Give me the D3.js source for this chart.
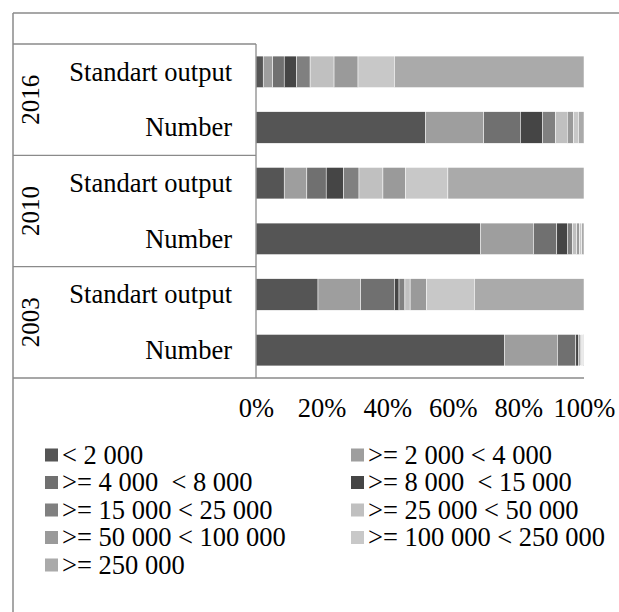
<!DOCTYPE html>
<html>
<head>
<meta charset="utf-8">
<script src="https://cdn.jsdelivr.net/npm/d3@7"></script>
<style>
  body { margin: 0; background: #fff; }
</style>
</head>
<body>
<script>
// size classes (legend order)
var sizeClasses = ["< 2 000", ">= 2 000 < 4 000", ">= 4 000  < 8 000", ">= 8 000  < 15 000",
  ">= 15 000 < 25 000", ">= 25 000 < 50 000", ">= 50 000 < 100 000", ">= 100 000 < 250 000", ">= 250 000"];
var classColors = ["#555555", "#9e9e9e", "#707070", "#454545", "#808080", "#c0c0c0", "#9a9a9a", "#c8c8c8", "#aaaaaa"];
var years = ["2016", "2010", "2003"];
var measures = ["Standart output", "Number"];
var tickValues = [0, 20, 40, 60, 80, 100];

// shares in % for each size class
var output2016 = [2.2, 2.9, 3.5, 3.8, 4.1, 7.3, 7.3, 11.1, 57.8];
var number2016 = [51.7, 17.7, 11.2, 6.7, 4.0, 3.6, 1.9, 1.5, 1.7];
var output2010 = [8.6, 6.9, 5.9, 5.3, 4.7, 7.3, 6.9, 12.9, 41.5];
var number2010 = [68.4, 16.2, 7.1, 3.2, 1.6, 1.3, 0.8, 0.7, 0.7];
var output2003 = [18.9, 13.0, 10.3, 1.4, 1.8, 1.6, 5.0, 14.6, 33.4];
var number2003 = [75.7, 16.2, 5.6, 0.8, 0.5, 0.5, 0.3, 0.2, 0.2];

var seriesByRow = {
  "2016|Standart output": output2016, "2016|Number": number2016,
  "2010|Standart output": output2010, "2010|Number": number2010,
  "2003|Standart output": output2003, "2003|Number": number2003
};

var width = 619, height = 612;
var plotLeft = 256, plotRight = 584, plotTop = 44, plotBottom = 378;
var frameX = 13, frameY = 13;
var serif = "Liberation Serif, Times New Roman, serif";
var fs = 26.5;

var svg = d3.select("body").append("svg").attr("width", width).attr("height", height)
  .attr("font-family", serif);

// rows for the stack
var rows = [];
years.forEach(function (y) {
  measures.forEach(function (m) {
    var r = { year: y, measure: m };
    seriesByRow[y + "|" + m].forEach(function (v, i) { r[sizeClasses[i]] = v; });
    rows.push(r);
  });
});
var stacked = d3.stack().keys(sizeClasses)(rows);

var x = d3.scaleLinear().domain([0, 100]).range([plotLeft, plotRight]);
var yGroup = d3.scaleBand().domain(years).range([plotTop, plotBottom]);
var ySub = d3.scaleBand().domain(measures).range([0, yGroup.bandwidth()])
  .paddingInner(0.434).paddingOuter(0.217);
var color = d3.scaleOrdinal().domain(sizeClasses).range(classColors);

var lineColor = "#8a8a8a";

// outer chart frame
svg.append("line").attr("x1", frameX).attr("y1", frameY).attr("x2", width + 5).attr("y2", frameY)
  .attr("stroke", lineColor).attr("stroke-width", 1.5);
svg.append("line").attr("x1", frameX).attr("y1", frameY).attr("x2", frameX).attr("y2", height + 5)
  .attr("stroke", lineColor).attr("stroke-width", 1.5);

// bars
var layers = svg.append("g").selectAll("g").data(stacked).enter().append("g")
  .attr("fill", function (d) { return color(d.key); });
layers.selectAll("rect").data(function (d) { return d; }).enter().append("rect")
  .attr("x", function (d) { return x(d[0]); })
  .attr("width", function (d) { return Math.max(0, x(d[1]) - x(d[0])); })
  .attr("y", function (d) { return yGroup(d.data.year) + ySub(d.data.measure); })
  .attr("height", ySub.bandwidth())
  .attr("stroke", "#ffffff").attr("stroke-width", 0.5);

// category table lines
var grid = svg.append("g").attr("stroke", lineColor).attr("stroke-width", 1.3);
years.forEach(function (y) {
  grid.append("line").attr("x1", frameX).attr("x2", plotLeft)
    .attr("y1", yGroup(y)).attr("y2", yGroup(y));
});
grid.append("line").attr("x1", frameX).attr("x2", plotRight).attr("y1", plotBottom).attr("y2", plotBottom);
grid.append("line").attr("x1", plotLeft).attr("x2", plotLeft).attr("y1", plotTop).attr("y2", plotBottom);

// year labels
svg.append("g").selectAll("text").data(years).enter().append("text")
  .attr("transform", function (d) {
    return "translate(39," + (yGroup(d) + yGroup.bandwidth() / 2) + ") rotate(-90)";
  })
  .attr("text-anchor", "middle")
  .attr("font-family", serif)
  .attr("font-size", 25)
  .text(function (d) { return d; });

// measure labels
svg.append("g").selectAll("text").data(rows).enter().append("text")
  .attr("x", 232)
  .attr("y", function (d) { return yGroup(d.year) + ySub(d.measure) + ySub.bandwidth() / 2; })
  .attr("dy", "0.33em")
  .attr("text-anchor", "end")
  .attr("font-family", serif)
  .attr("font-size", fs)
  .text(function (d) { return d.measure; });

// x axis labels
var axis = svg.append("g").attr("transform", "translate(0," + plotBottom + ")")
  .call(d3.axisBottom(x).tickValues(tickValues).tickSize(0).tickPadding(20)
    .tickFormat(function (d) { return d + "%"; }));
axis.attr("font-family", serif).attr("font-size", fs);
axis.select(".domain").remove();
axis.selectAll("text").attr("fill", "#000").attr("font-family", serif);

// legend
var legend = svg.append("g");
var items = legend.selectAll("g").data(sizeClasses).enter().append("g")
  .attr("transform", function (d, i) {
    return "translate(" + (i % 2 === 0 ? 45 : 351) + "," + (455 + Math.floor(i / 2) * 27.5) + ")";
  });
items.append("rect").attr("x", 0).attr("y", -6.5).attr("width", 13).attr("height", 13)
  .attr("fill", function (d) { return color(d); });
items.append("text").attr("x", 17).attr("y", 0).attr("dy", "0.33em")
  .attr("font-family", serif)
  .attr("font-size", fs)
  .style("white-space", "pre")
  .text(function (d) { return d; });
</script>
</body>
</html>
